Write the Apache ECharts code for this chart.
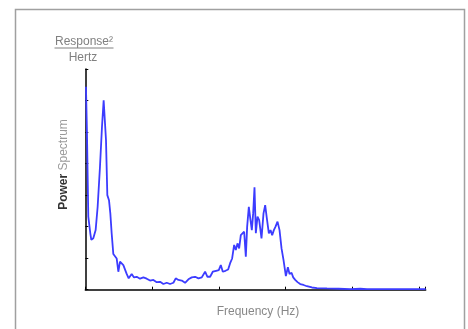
<!DOCTYPE html>
<html>
<head>
<meta charset="utf-8">
<script src="https://cdn.jsdelivr.net/npm/echarts@6/dist/echarts.min.js"></script>
<style>
html,body{margin:0;padding:0;background:#fff;}
#chart{width:468px;height:329px;}
</style>
</head>
<body>
<div id="chart"></div>
<script>
// Frequency values (Hz, relative units)
const freq = [0.1,0.25,0.45,0.6,0.75,0.9,1.2,1.55,1.85,2.2,2.5,2.75,2.9,3.1,3.3,3.55,3.75,3.95,4.2,4.45,4.7,4.95,5.2,5.45,5.7,5.95,6.2,6.5,6.95,7.3,7.7,8.2,8.7,9.2,9.7,10.2,10.7,11.2,11.7,12.2,12.7,13.2,13.55,13.95,14.45,14.95,15.45,15.95,16.45,16.95,17.45,17.95,18.3,18.7,19.1,19.6,20.0,20.3,20.6,21.0,21.4,21.7,22.0,22.3,22.55,22.8,23.05,23.3,23.55,23.8,24.05,24.25,24.5,24.75,24.95,25.15,25.35,25.55,25.8,26.05,26.4,26.7,26.95,27.2,27.5,27.75,28.0,28.25,28.5,28.8,29.1,29.4,29.7,30.05,30.35,30.6,30.9,31.15,31.45,31.8,32.2,32.7,33.2,33.95,34.7,36.2,37.95,39.7,41.2,42.2,51.0];
// Power spectrum values
const power = [64.4,49.6,23.2,22.6,17.9,15.8,16.3,18.9,26.3,39.0,51.7,60.1,59.6,47.5,30.0,28.4,24.2,17.9,11.3,11.0,9.9,5.7,8.9,8.4,7.8,8.4,5.0,3.6,5.0,3.9,4.1,3.5,3.9,3.5,2.9,3.1,2.4,2.5,1.8,2.2,1.8,2.2,3.6,3.1,2.9,2.2,3.3,3.9,4.1,3.6,3.9,5.7,4.1,4.1,5.7,6.0,6.2,7.8,5.7,6.0,6.4,8.4,9.9,14.2,12.6,14.7,13.1,17.3,17.9,18.4,10.5,20.0,26.3,22.1,18.9,24.2,32.5,17.9,23.2,22.1,16.3,24.2,26.8,22.6,17.9,18.9,17.3,18.9,20.0,21.6,18.9,13.1,9.4,4.3,7.1,5.0,5.4,3.9,3.1,2.4,1.8,1.5,1.1,0.7,0.5,0.4,0.3,0.2,0.3,0.2,0.2];

const xTitle = 'Frequency (Hz)';
const yTitleA = 'Power';
const yTitleB = 'Spectrum';
const unitTop = 'Response²';
const unitBottom = 'Hertz';

const chart = echarts.init(document.getElementById('chart'), null, {renderer:'canvas'});
const data = freq.map((f,i)=>[f,power[i]]);
chart.setOption({
  animation:false,
  backgroundColor:'#fff',
  grid:{left:85.3,top:69,right:42.3,bottom:39.3,containLabel:false},
  xAxis:{
    type:'value',min:0,max:51,interval:10,
    axisLine:{show:true,lineStyle:{color:'#000',width:1.5}},
    axisTick:{show:true,inside:true,length:3,lineStyle:{color:'#000',width:1}},
    axisLabel:{show:false},
    splitLine:{show:false}
  },
  yAxis:{
    type:'value',min:0,max:70,interval:10,
    axisLine:{show:true,lineStyle:{color:'#000',width:1.5}},
    axisTick:{show:true,inside:true,length:3,lineStyle:{color:'#000',width:1}},
    axisLabel:{show:false},
    splitLine:{show:false}
  },
  series:[{
    type:'line',data:data,showSymbol:false,symbol:'none',
    lineStyle:{color:'#3c3cff',width:1.8},
    z:3
  }],
  graphic:[
    {type:'rect',shape:{x:15.5,y:9.5,width:449,height:330},style:{fill:'none',stroke:'#a0a0a0',lineWidth:1.5},silent:true},
    {type:'text',x:84,y:41.5,style:{text:unitTop,fill:'#808080',font:'12px "Liberation Sans", Arial, sans-serif',textAlign:'center',textVerticalAlign:'middle'}},
    {type:'line',shape:{x1:54.5,y1:48,x2:113.5,y2:48},style:{stroke:'#808080',lineWidth:1}},
    {type:'text',x:83,y:58,style:{text:unitBottom,fill:'#808080',font:'12px "Liberation Sans", Arial, sans-serif',textAlign:'center',textVerticalAlign:'middle'}},
    {type:'text',x:258,y:312,style:{text:xTitle,fill:'#888888',font:'12px "Liberation Sans", Arial, sans-serif',textAlign:'center',textVerticalAlign:'middle'}},
    {type:'text',x:63.5,y:164.5,rotation:Math.PI/2,style:{
      text:'{a|'+yTitleA+'} {b|'+yTitleB+'}',
      textAlign:'center',textVerticalAlign:'middle',
      rich:{
        a:{fill:'#333333',font:'bold 12px "Liberation Sans", Arial, sans-serif'},
        b:{fill:'#9a9a9a',font:'12px "Liberation Sans", Arial, sans-serif'}
      }
    }}
  ]
});
</script>
</body>
</html>
